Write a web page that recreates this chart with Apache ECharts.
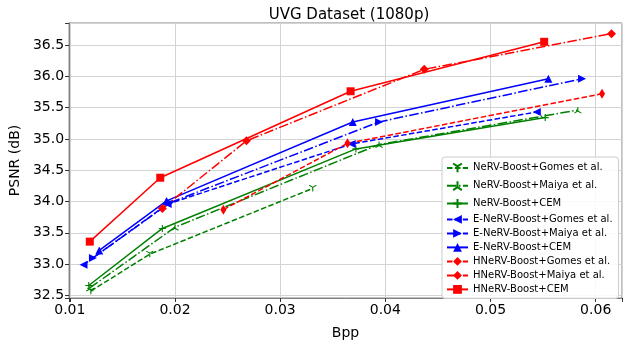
<!DOCTYPE html>
<html>
<head>
<meta charset="utf-8">
<script src="https://cdn.jsdelivr.net/npm/echarts@6/dist/echarts.min.js"></script>
<style>
  html, body { margin: 0; padding: 0; background: #fff; }
  #rd-chart { width: 629px; height: 345px; }
</style>
</head>
<body>
<div id="rd-chart"></div>
<script>
// bpp / psnr points
const nervGomesBpp = [0.0120, 0.0176, 0.0331]
const nervGomesPsnr = [32.57, 33.16, 34.21]
const nervMaiyaBpp = [0.0119, 0.0200, 0.0394, 0.0583]
const nervMaiyaPsnr = [32.62, 33.59, 34.91, 35.46]
const nervCemBpp = [0.0118, 0.0188, 0.0372, 0.0552]
const nervCemPsnr = [32.66, 33.57, 34.84, 35.34]

const enervGomesBpp = [0.0113, 0.0193, 0.0368, 0.0544]
const enervGomesPsnr = [32.99, 33.96, 34.92, 35.43]
const enervMaiyaBpp = [0.0122, 0.0195, 0.0394, 0.0587]
const enervMaiyaPsnr = [33.10, 33.98, 35.27, 35.96]
const enervCemBpp = [0.0128, 0.0192, 0.0369, 0.0555]
const enervCemPsnr = [33.22, 34.01, 35.27, 35.96]

const hnervGomesBpp = [0.0246, 0.0364, 0.0606]
const hnervGomesPsnr = [33.87, 34.93, 35.72]
const hnervMaiyaBpp = [0.0188, 0.0268, 0.0437, 0.0615]
const hnervMaiyaPsnr = [33.89, 34.97, 36.11, 36.68]
const hnervCemBpp = [0.0119, 0.0186, 0.0367, 0.0551]
const hnervCemPsnr = [33.36, 34.38, 35.76, 36.55]

const xTicks = [0.01, 0.02, 0.03, 0.04, 0.05, 0.06]
const yTicks = [32.5, 33.0, 33.5, 34.0, 34.5, 35.0, 35.5, 36.0, 36.5]

const FONT = 'DejaVu Sans'
const GREEN = '#008000'
const BLUE = '#0000ff'
const RED = '#ff0000'

const DASHED = [5.5, 2.4]
const DASHDOT = [9.6, 2.4, 1.5, 2.4]

// matplotlib style markers
const TRI_DOWN = 'path://M0,0L0,10M0,0L-8.66,-5M0,0L8.66,-5'
const TRI_UP = 'path://M0,0L0,-10M0,0L-8.66,5M0,0L8.66,5'
const PLUS = 'path://M-10,0L10,0M0,-10L0,10'

function pts(xs, ys) {
  return xs.map((x, i) => [x, ys[i]])
}

function makeSeries(name, xs, ys, color, type, symbol, size, rotate, stroke) {
  return {
    name,
    type: 'line',
    data: pts(xs, ys),
    symbol,
    symbolSize: size,
    symbolRotate: rotate || 0,
    symbolKeepAspect: true,
    showAllSymbol: true,
    animation: false,
    lineStyle: { color, width: 1.5, type },
    itemStyle: stroke
      ? { color: 'none', borderColor: color, borderWidth: 1.1 }
      : { color, borderColor: color, borderWidth: 0 },
    emphasis: { disabled: true }
  }
}

const series = [
  makeSeries('NeRV-Boost+Gomes et al.', nervGomesBpp, nervGomesPsnr, GREEN, DASHED, TRI_DOWN, 7, 0, true),
  makeSeries('NeRV-Boost+Maiya et al.', nervMaiyaBpp, nervMaiyaPsnr, GREEN, DASHDOT, TRI_UP, 7, 0, true),
  makeSeries('NeRV-Boost+CEM', nervCemBpp, nervCemPsnr, GREEN, 'solid', PLUS, 7, 0, true),
  makeSeries('E-NeRV-Boost+Gomes et al.', enervGomesBpp, enervGomesPsnr, BLUE, DASHED, 'triangle', 8, 90, false),
  makeSeries('E-NeRV-Boost+Maiya et al.', enervMaiyaBpp, enervMaiyaPsnr, BLUE, DASHDOT, 'triangle', 8, -90, false),
  makeSeries('E-NeRV-Boost+CEM', enervCemBpp, enervCemPsnr, BLUE, 'solid', 'triangle', 8, 0, false),
  makeSeries('HNeRV-Boost+Gomes et al.', hnervGomesBpp, hnervGomesPsnr, RED, DASHED, 'diamond', [6, 10], 0, false),
  makeSeries('HNeRV-Boost+Maiya et al.', hnervMaiyaBpp, hnervMaiyaPsnr, RED, DASHDOT, 'diamond', 9, 0, false),
  makeSeries('HNeRV-Boost+CEM', hnervCemBpp, hnervCemPsnr, RED, 'solid', 'rect', 8, 0, false)
]

function onTick(ticks, v) {
  return ticks.some(t => Math.abs(t - v) < 1e-6)
}

const option = {
  animation: false,
  textStyle: { fontFamily: FONT },
  title: {
    text: 'UVG Dataset (1080p)',
    left: 344,
    textAlign: 'center',
    top: 3,
    textStyle: { fontFamily: FONT, fontSize: 15, fontWeight: 'normal', color: '#000' }
  },
  grid: {
    left: 66, right: 7, top: 23, bottom: 44,
    show: true, borderColor: '#808080', borderWidth: 1, backgroundColor: 'transparent'
  },
  legend: {
    orient: 'vertical',
    left: 442,
    top: 157,
    itemWidth: 21,
    itemHeight: 11,
    itemGap: 4,
    padding: [4, 6, 4, 4],
    backgroundColor: 'rgba(255,255,255,0.85)',
    borderColor: '#cccccc',
    borderWidth: 1,
    borderRadius: 3,
    textStyle: { fontFamily: FONT, fontSize: 10, color: '#000' },
    data: series.map(s => s.name)
  },
  xAxis: {
    type: 'value',
    min: 0.00993,
    max: 0.0625,
    minInterval: 0.01,
    maxInterval: 0.01,
    name: 'Bpp',
    nameLocation: 'middle',
    nameGap: 28,
    nameTextStyle: { fontFamily: FONT, fontSize: 14, color: '#000' },
    axisLine: { show: true, lineStyle: { color: '#808080' } },
    axisTick: { show: true, length: 4, lineStyle: { color: '#333' } },
    axisLabel: {
      fontFamily: FONT, fontSize: 14, color: '#000', margin: 5,
      showMinLabel: true, showMaxLabel: true,
      formatter: v => onTick(xTicks, v) ? v.toFixed(2) : ''
    },
    splitLine: { show: true, lineStyle: { color: '#d3d3d3', width: 1 } }
  },
  yAxis: {
    type: 'value',
    min: 32.46,
    max: 36.85,
    minInterval: 0.5,
    maxInterval: 0.5,
    name: 'PSNR (dB)',
    nameLocation: 'middle',
    nameGap: 45,
    nameTextStyle: { fontFamily: FONT, fontSize: 14, color: '#000' },
    axisLine: { show: true, lineStyle: { color: '#808080' } },
    axisTick: { show: true, length: 4, lineStyle: { color: '#333' } },
    axisLabel: {
      fontFamily: FONT, fontSize: 14, color: '#000', margin: 5,
      formatter: v => onTick(yTicks, v) ? v.toFixed(1) : ''
    },
    splitLine: { show: true, lineStyle: { color: '#d3d3d3', width: 1 } }
  },
  series
}

const chart = echarts.init(document.getElementById('rd-chart'), null, { renderer: 'canvas' })
chart.setOption(option)
</script>
</body>
</html>
